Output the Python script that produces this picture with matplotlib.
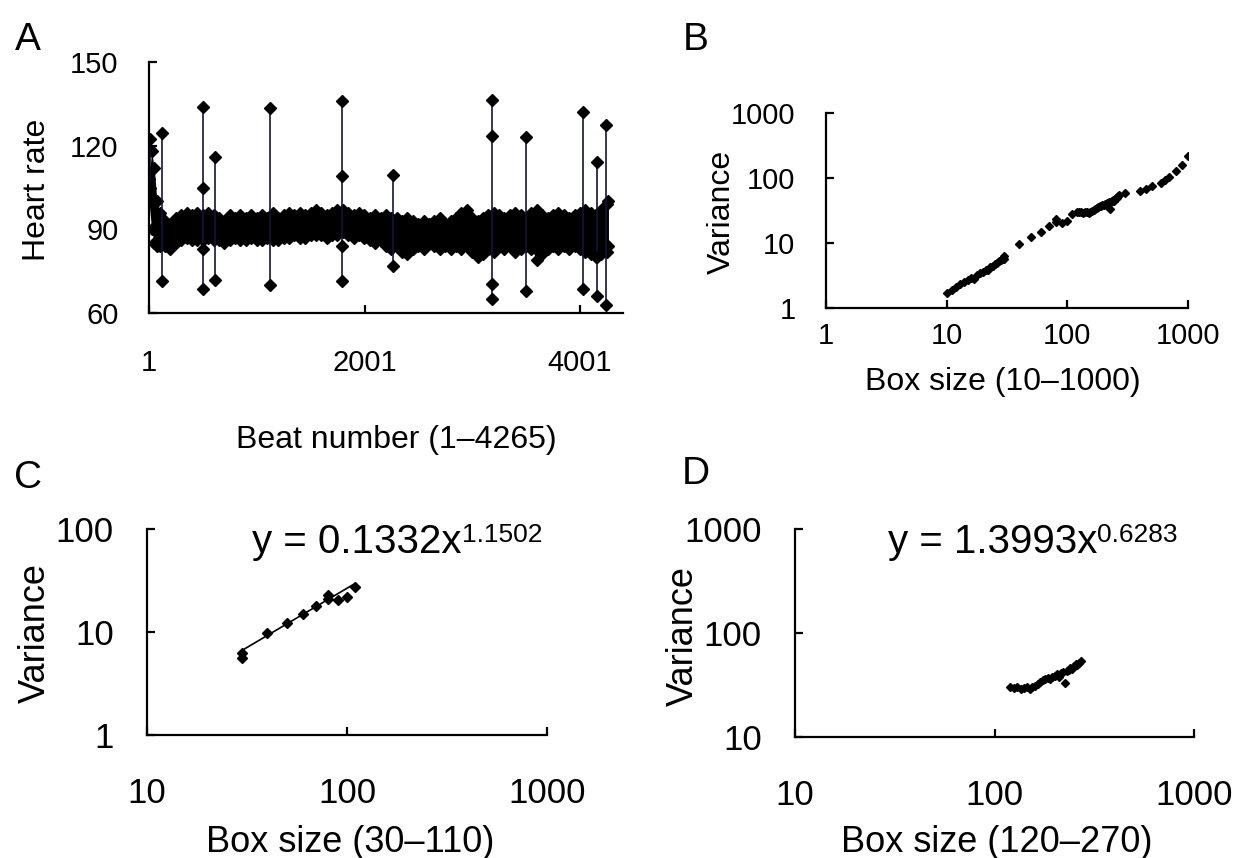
import matplotlib
matplotlib.use("Agg")
import matplotlib.pyplot as plt
import numpy as np

plt.rcParams['font.family'] = ['Liberation Sans', 'DejaVu Sans']

# ---- panel A: heart rate series (envelope of the dense band + isolated spikes)
env_beat = [1, 25, 50, 75, 100, 150, 200, 250, 300, 350, 400, 450, 500, 550, 600,
            650, 700, 750, 800, 850, 900, 950, 1000, 1050, 1100, 1150, 1200, 1250,
            1300, 1350, 1400, 1450, 1500, 1550, 1600, 1650, 1700, 1750, 1800, 1850,
            1900, 1950, 2000, 2050, 2100, 2150, 2200, 2250, 2300, 2350, 2400, 2450,
            2500, 2550, 2600, 2650, 2700, 2750, 2800, 2850, 2900, 2950, 3000, 3050,
            3100, 3150, 3200, 3250, 3300, 3350, 3400, 3450, 3500, 3550, 3600, 3650,
            3700, 3750, 3800, 3850, 3900, 3950, 4000, 4050, 4100, 4150, 4200, 4250, 4265]
env_high = [108, 118, 112, 100, 96, 93, 92, 94, 95, 96, 95, 96, 95, 96, 95,
            94, 93, 95, 94, 95, 94, 95, 94, 95, 94, 96, 94, 95,
            96, 95, 96, 95, 96, 97, 96, 95, 96, 97, 97, 96,
            95, 96, 95, 94, 95, 94, 95, 94, 94, 93, 94, 93,
            92, 93, 92, 93, 94, 92, 93, 94, 96, 97, 94, 93,
            94, 95, 96, 95, 94, 95, 96, 95, 94, 96, 97, 95,
            94, 95, 96, 95, 94, 95, 96, 97, 96, 95, 97, 99, 100]
env_low = [100, 90, 85, 84, 84, 84, 83, 85, 86, 87, 86, 86, 86, 87, 86,
           86, 85, 86, 87, 86, 86, 87, 86, 86, 87, 86, 86, 87,
           87, 88, 87, 87, 88, 88, 88, 87, 88, 88, 89, 88,
           87, 88, 87, 86, 85, 86, 84, 83, 84, 82, 81, 83,
           84, 83, 85, 84, 83, 84, 83, 84, 83, 84, 82, 80,
           81, 83, 82, 84, 83, 84, 82, 83, 84, 83, 79, 81,
           83, 84, 83, 84, 83, 84, 83, 82, 81, 80, 81, 82, 84]

spike_beat = [8, 120, 500, 615, 1125, 1790, 2270, 3185, 3500, 4030, 4160, 4245]
spike_high = [122.5, 124.5, 134, 116, 133.5, 136, 109.5, 136.5, 123, 132, 114, 127.5]
spike_low = [105, 71.5, 68.5, 72, 70, 71.5, 77, 65, 68, 68.5, 66, 63]
mid_beat = [500, 500, 1790, 1790, 3185, 3185, 4160]
mid_hr = [105, 83, 109, 84, 123.5, 70.5, 80]

# ---- panels B-D: variance vs box size
box_small = [10, 11, 12, 13, 14, 15, 16, 17, 18, 19, 20, 21, 22, 23, 24, 25, 26, 27, 28, 29]
var_small = [1.7, 1.9, 2.1, 2.3, 2.5, 2.7, 2.9, 2.8, 3.2, 3.4, 3.6, 3.9, 3.8, 4.2, 4.5,
             4.7, 4.9, 5.2, 5.4, 5.7]

box_c = [30, 30, 40, 50, 60, 70, 80, 80, 90, 100, 110]
var_c = [5.6, 6.3, 9.8, 12.3, 15.0, 18.0, 23.0, 21.0, 20.5, 22.0, 27.5]
fit_c = (0.1332, 1.1502)

box_d = [120, 125, 130, 135, 140, 145, 150, 155, 160, 165, 170, 175, 180, 185, 190,
         195, 200, 205, 210, 215, 220, 225, 230, 235, 240, 245, 250, 255, 260, 265, 270]
var_d = [30.5, 29.5, 30, 29, 29.5, 30, 29, 30.5, 31, 32, 33.5, 35, 36, 37, 36.5,
         38, 39, 40, 38, 41, 42, 33, 43, 44, 46, 45, 48, 50, 49, 52, 54]
fit_d = (1.3993, 0.6283)

box_tail = [300, 400, 450, 500, 600, 650, 700, 800, 900, 1000]
var_tail = [58, 63, 68, 75, 85, 93, 104, 130, 160, 220]

W, H = 1244, 858
navy = '#14143c'


def frame(x0, y0, x1, y1):
    # pixel box (left, top, right, bottom) -> figure fraction rect
    return [x0 / W, 1 - y1 / H, (x1 - x0) / W, (y1 - y0) / H]


def style(ax, size, xpad, ypad):
    ax.patch.set_visible(False)
    for s in ['top', 'right']:
        ax.spines[s].set_visible(False)
    for s in ['left', 'bottom']:
        ax.spines[s].set_linewidth(1.6)
    ax.tick_params(direction='in', length=6, width=1.6, labelsize=size)
    ax.tick_params(axis='x', pad=xpad)
    ax.tick_params(axis='y', pad=ypad)
    ax.minorticks_off()


def ftext(x, y, s, size, **kw):
    fig.text(x / W, 1 - y / H, s, fontsize=size, ha='center', va='center', **kw)


def equation(ax, x0, coef, expo):
    t = fig.text(x0 / W, 1 - 553 / H, 'y = %.4fx' % coef, fontsize=29,
                 ha='left', va='baseline')
    ax.annotate('%.4f' % expo, xy=(1.0, 1.0), xycoords=t,
                ha='left', va='top', fontsize=19, annotation_clip=False)


fig = plt.figure(figsize=(W / 100, H / 100), dpi=100)

# A
ax = fig.add_axes(frame(149, 62, 623, 313))
ax.fill_between(env_beat, env_low, env_high, color='black', lw=0)
ax.plot(env_beat, env_high, 'D', color='black', ms=6)
ax.plot(env_beat, env_low, 'D', color='black', ms=6)
ax.vlines(spike_beat, spike_low, spike_high, color=navy, lw=1.2)
ax.plot(spike_beat, spike_high, 'D', color='black', ms=6)
ax.plot(spike_beat, spike_low, 'D', color='black', ms=6)
ax.plot(mid_beat, mid_hr, 'D', color='black', ms=6)
ax.set_xlim(1, 4400)
ax.set_ylim(60, 150)
ax.set_xticks([1, 2001, 4001])
ax.set_xticklabels(['1', '2001', '4001'])
ax.set_yticks([60, 90, 120, 150])
style(ax, 21, 26, 22)

# B
ax = fig.add_axes(frame(826, 113, 1188, 308))
ax.plot(box_small + box_c + box_d + box_tail, var_small + var_c + var_d + var_tail,
        'D', color='black', ms=4)
ax.set_xscale('log')
ax.set_yscale('log')
ax.set_xlim(1, 1000)
ax.set_ylim(1, 1000)
ax.set_xticks([1, 10, 100, 1000])
ax.set_xticklabels(['1', '10', '100', '1000'])
ax.set_yticks([1, 10, 100, 1000])
ax.set_yticklabels(['1', '10', '100', '1000'])
style(ax, 21, 10, 22)

# C
ax = fig.add_axes(frame(147, 529, 547, 735))
ax.plot(box_c, var_c, 'D', color='black', ms=5)
xs = np.array([min(box_c), max(box_c)])
ax.plot(xs, fit_c[0] * xs ** fit_c[1], color='black', lw=1.2)
ax.set_xscale('log')
ax.set_yscale('log')
ax.set_xlim(10, 1000)
ax.set_ylim(1, 100)
ax.set_xticks([10, 100, 1000])
ax.set_xticklabels(['10', '100', '1000'])
ax.set_yticks([1, 10, 100])
ax.set_yticklabels(['1', '10', '100'])
style(ax, 25, 30, 24)
equation(ax, 252, *fit_c)

# D
ax = fig.add_axes(frame(795, 529, 1194, 737))
ax.plot(box_d, var_d, 'D', color='black', ms=4)
ax.set_xscale('log')
ax.set_yscale('log')
ax.set_xlim(10, 1000)
ax.set_ylim(10, 1000)
ax.set_xticks([10, 100, 1000])
ax.set_xticklabels(['10', '100', '1000'])
ax.set_yticks([10, 100, 1000])
ax.set_yticklabels(['10', '100', '1000'])
style(ax, 25, 30, 24)
equation(ax, 888, *fit_d)

# panel letters and labels
ftext(28, 40, 'A', 28)
ftext(696, 40, 'B', 28)
ftext(28, 478, 'C', 28)
ftext(696, 474, 'D', 28)

ftext(37, 190, 'Heart rate', 23, rotation=90)
ftext(396, 440, 'Beat number (1–4265)', 23)
ftext(722, 212, 'Variance', 23, rotation=90)
ftext(1003, 382, 'Box size (10–1000)', 23)
ftext(35, 633, 'Variance', 26, rotation=90)
ftext(350, 842, 'Box size (30–110)', 26)
ftext(683, 636, 'Variance', 26, rotation=90)
ftext(997, 842, 'Box size (120–270)', 26)

fig.savefig('out.png', dpi=100)
